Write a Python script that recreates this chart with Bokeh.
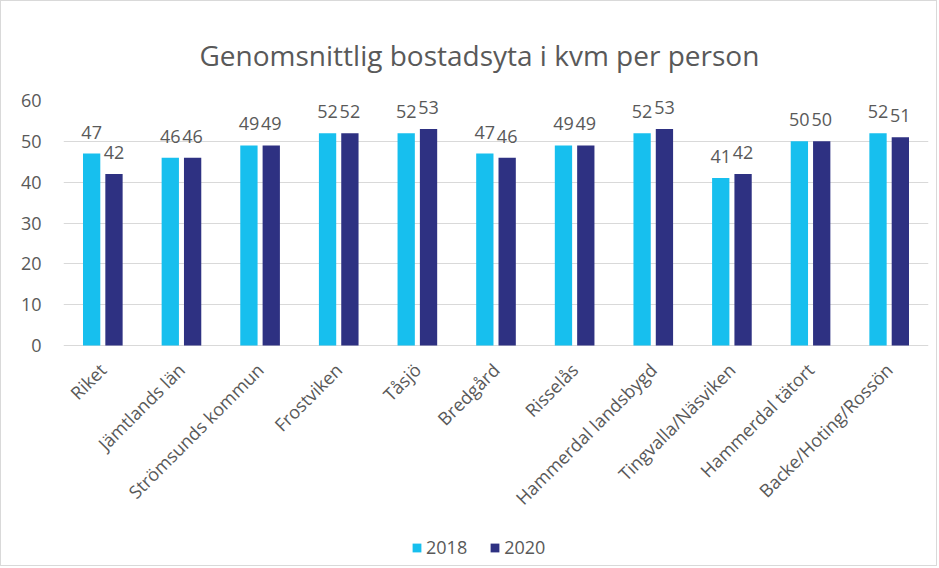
from bokeh.plotting import figure
from bokeh.models import (ColumnDataSource, FactorRange, Range1d, LabelSet, Legend, LegendItem,
                          FixedTicker)
from bokeh.core.properties import value
from bokeh.transform import dodge
from bokeh.embed import file_html
from bokeh.resources import INLINE
from math import pi

categories = ["Riket", "Jämtlands län", "Strömsunds kommun", "Frostviken", "Tåsjö",
              "Bredgård", "Risselås", "Hammerdal landsbygd", "Tingvalla/Näsviken",
              "Hammerdal tätort", "Backe/Hoting/Rossön"]
v2018 = [47, 46, 49, 52, 52, 47, 49, 52, 41, 50, 52]
v2020 = [42, 46, 49, 52, 53, 46, 49, 53, 42, 50, 51]
series = ["2018", "2020"]
y_ticks = [0, 10, 20, 30, 40, 50, 60]
colors = ["#17BFEE", "#2E3182"]

FONT = "Open Sans"
GRAY = "#595959"

# layout: value area is 245 px tall; frame extends below zero to hold category labels + legend
VALUE_H = 245
FRAME_H = 465
y_max = y_ticks[-1]
y_min = -(FRAME_H - VALUE_H) * y_max / VALUE_H

src = ColumnDataSource(dict(cat=categories, v2018=v2018, v2020=v2020,
                            t2018=[str(v) for v in v2018], t2020=[str(v) for v in v2020],
                            base=[0] * len(categories)))

p = figure(x_range=FactorRange(*categories), y_range=Range1d(y_min, y_max),
           width=935, height=565, frame_width=865, frame_height=FRAME_H,
           output_backend="svg", toolbar_location=None, x_axis_location=None,
           min_border_left=62, min_border_right=8, min_border_top=99, min_border_bottom=0)

p.title.text = "Genomsnittlig bostadsyta i kvm per person"
p.title.align = "left"
p.title.text_font = FONT
p.title.text_font_size = "28px"
p.title.text_font_style = "normal"
p.title.text_color = GRAY
p.title.standoff = 54
p.title.offset = 136

off = 0.142
w = 0.22
r1 = p.vbar(x=dodge("cat", -off, range=p.x_range), top="v2018", width=w, source=src,
            fill_color=colors[0], line_color=None)
r2 = p.vbar(x=dodge("cat", off, range=p.x_range), top="v2020", width=w, source=src,
            fill_color=colors[1], line_color=None)

for fld, o in (("2018", -off), ("2020", off)):
    ls = LabelSet(x=dodge("cat", o, range=p.x_range), y="v" + fld, text="t" + fld, source=src,
                  text_align="center", text_baseline="alphabetic", y_offset=15,
                  text_font=value(FONT), text_font_size=value("18px"), text_color=value(GRAY))
    p.add_layout(ls)

# category labels, rotated 45 degrees below the zero line
cat_labels = LabelSet(x="cat", y="base", text="cat", source=src, angle=pi / 4,
                      text_align="right", text_baseline="middle", x_offset=0, y_offset=-21,
                      text_font=value(FONT), text_font_size=value("18px"), text_color=value(GRAY))
p.add_layout(cat_labels)

p.outline_line_color = None
p.xgrid.grid_line_color = None
p.ygrid.ticker = FixedTicker(ticks=y_ticks)
p.ygrid.grid_line_color = "#D9D9D9"
p.ygrid.grid_line_width = 1
p.yaxis.ticker = FixedTicker(ticks=y_ticks)
p.yaxis.axis_line_color = None
p.yaxis.major_tick_line_color = None
p.yaxis.minor_tick_line_color = None
p.yaxis.major_label_text_font = FONT
p.yaxis.major_label_text_font_size = "18px"
p.yaxis.major_label_text_color = GRAY
p.yaxis.major_label_standoff = 16

legend = Legend(items=[LegendItem(label=series[0], renderers=[r1]),
                       LegendItem(label=series[1], renderers=[r2])],
                orientation="horizontal", location=(348, 6), margin=0, padding=8,
                label_text_font=FONT, label_text_font_size="18px", label_text_color=GRAY,
                label_standoff=4, glyph_width=11, glyph_height=11, spacing=22,
                border_line_color=None, background_fill_alpha=0)
p.add_layout(legend, "center")

p.styles = {"border": "1px solid #D9D9D9"}

open("out.html", "w").write(file_html(p, INLINE))
